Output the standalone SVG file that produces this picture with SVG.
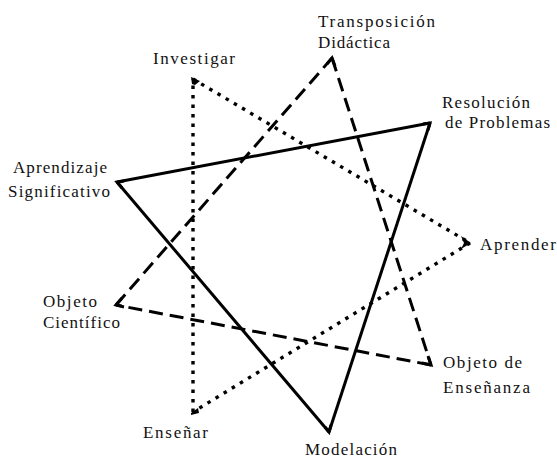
<svg xmlns="http://www.w3.org/2000/svg" width="557" height="460" viewBox="0 0 557 460">
<style>
text{font-family:"Liberation Serif","Times New Roman",serif;font-size:17px;fill:#111;}
.e{fill:none;stroke:#000;stroke-width:3;stroke-linejoin:miter;}
.solid{}
.dash{stroke-dasharray:14 7;}
.dot{stroke-dasharray:3.5 6;stroke-width:3.4;}
.tip{fill:#000;stroke:none;}
</style>
<rect width="557" height="460" fill="#fff"/>
<g id="connectors">
  <g id="solid-triangle">
    <line class="e solid" x1="117" y1="182" x2="430" y2="123"/>
    <line class="e solid" x1="430" y1="123" x2="329" y2="432"/>
    <line class="e solid" x1="329" y1="432" x2="117" y2="182"/>
    <polyline class="e" points="124,181 117,182 122,188"/>
    <polyline class="e" points="423,124 430,123 428,130"/>
    <polyline class="e" points="325,427 329,432 331,425"/>
  </g>
  <g id="dashed-triangle">
    <line class="e dash" x1="332" y1="58" x2="431" y2="365"/>
    <line class="e dash" x1="431" y1="365" x2="116" y2="305"/>
    <line class="e dash" x1="116" y1="305" x2="332" y2="58"/>
    <polyline class="e" points="327,64 332,58 335,66"/>
    <polyline class="e" points="428,356 431,365 422,363"/>
    <polyline class="e" points="122,298 116,305 124,307"/>
  </g>
  <g id="dotted-triangle">
    <line class="e dot" x1="193" y1="79" x2="470" y2="243"/>
    <line class="e dot" x1="470" y1="243" x2="193" y2="412"/>
    <line class="e dot" x1="193" y1="412" x2="193" y2="79"/>
    <polygon class="tip" points="191,77 200,81 195,85 192,84"/>
    <polygon class="tip" points="471,243 461,236 464,243 461,249"/>
    <polygon class="tip" points="191,413 198,408 199,413 191,415"/>
  </g>
</g>
<g id="investigar"><text x="153" y="64" textLength="82" lengthAdjust="spacing">Investigar</text></g>
<g id="transposicion"><text x="318" y="27" textLength="117" lengthAdjust="spacing">Transposición</text><text x="318" y="48" textLength="72" lengthAdjust="spacing">Didáctica</text></g>
<g id="resolucion"><text x="442" y="108" textLength="88" lengthAdjust="spacing">Resolución</text><text x="445" y="128" textLength="105" lengthAdjust="spacing">de Problemas</text></g>
<g id="aprendizaje"><text x="13" y="173" textLength="94" lengthAdjust="spacing">Aprendizaje</text><text x="8" y="197" textLength="102" lengthAdjust="spacing">Significativo</text></g>
<g id="objeto-cientifico"><text x="43" y="307" textLength="54" lengthAdjust="spacing">Objeto</text><text x="43" y="328" textLength="77" lengthAdjust="spacing">Científico</text></g>
<g id="ensenar"><text x="143" y="438" textLength="65" lengthAdjust="spacing">Enseñar</text></g>
<g id="aprender"><text x="480" y="250" textLength="76" lengthAdjust="spacing">Aprender</text></g>
<g id="objeto-ensenanza"><text x="443" y="368" textLength="79" lengthAdjust="spacing">Objeto de</text><text x="443" y="393" textLength="87" lengthAdjust="spacing">Enseñanza</text></g>
<g id="modelacion"><text x="305" y="455" textLength="92" lengthAdjust="spacing">Modelación</text></g>
</svg>
